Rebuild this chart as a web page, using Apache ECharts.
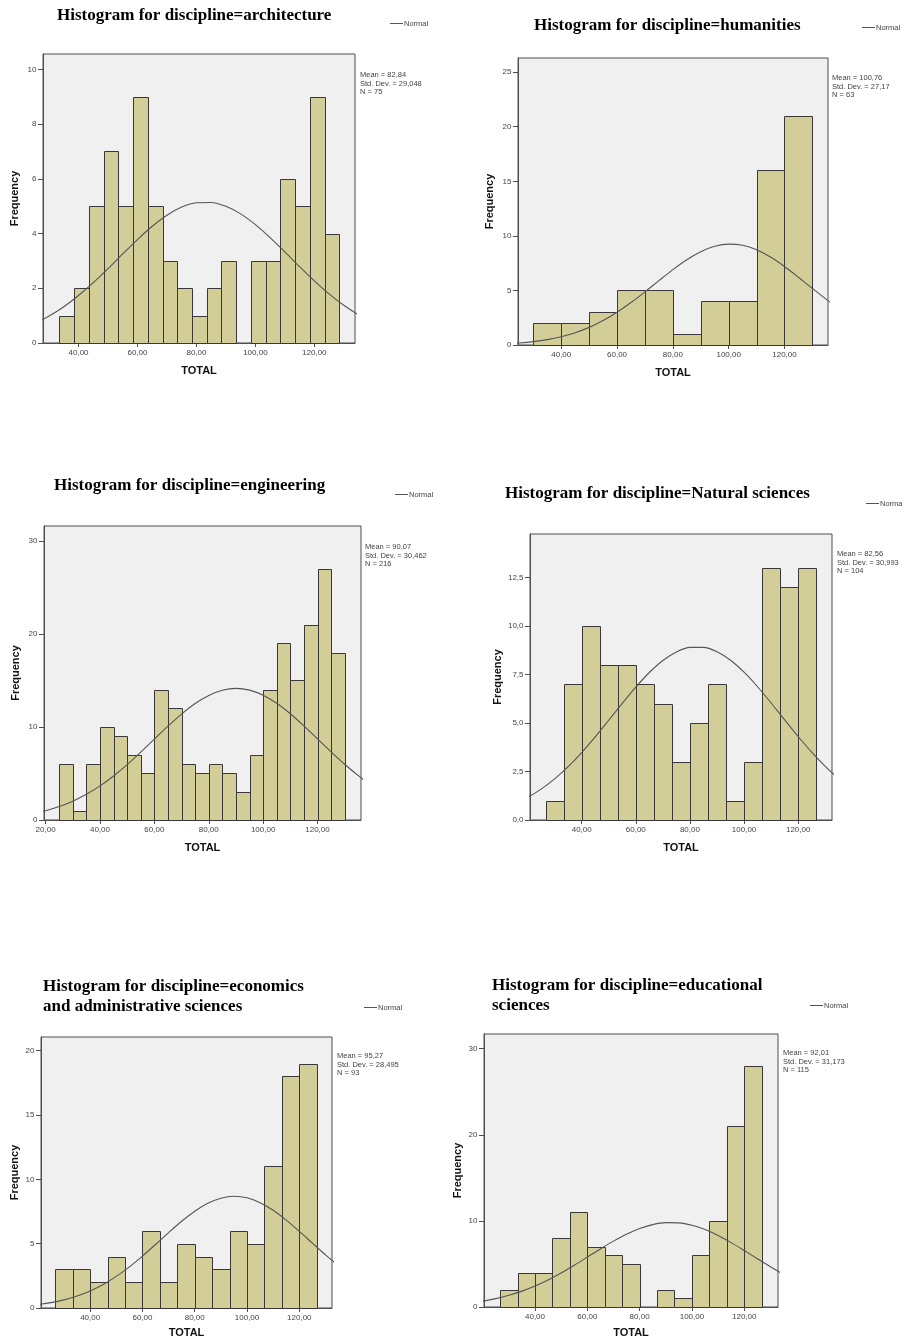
<!DOCTYPE html>
<html>
<head>
<meta charset="utf-8">
<script src="https://cdn.jsdelivr.net/npm/echarts@6/dist/echarts.min.js"></script>
<style>
html,body{margin:0;padding:0;background:#fff;}
#chart{width:903px;height:1342px;}
</style>
</head>
<body>
<div id="chart"></div>
<script>
// ---------- DATA ----------
const titles = [
  ['Histogram for discipline=architecture'],
  ['Histogram for discipline=humanities'],
  ['Histogram for discipline=engineering'],
  ['Histogram for discipline=Natural sciences'],
  ['Histogram for discipline=economics', 'and administrative sciences'],
  ['Histogram for discipline=educational', 'sciences']
];
const statsText = [
  ['Mean = 82,84', 'Std. Dev. = 29,048', 'N = 75'],
  ['Mean = 100,76', 'Std. Dev. = 27,17', 'N = 63'],
  ['Mean = 90,07', 'Std. Dev. = 30,462', 'N = 216'],
  ['Mean = 82,56', 'Std. Dev. = 30,993', 'N = 104'],
  ['Mean = 95,27', 'Std. Dev. = 28,495', 'N = 93'],
  ['Mean = 92,01', 'Std. Dev. = 31,173', 'N = 115']
];

const archEdges = [33.5, 38.5, 43.5, 48.5, 53.5, 58.5, 63.5, 68.5, 73.5, 78.5, 83.5, 88.5, 93.5, 98.5, 103.5, 108.5, 113.5, 118.5, 123.5, 128.5];
const archCounts = [1, 2, 5, 7, 5, 9, 5, 3, 2, 1, 2, 3, 0, 3, 3, 6, 5, 9, 4];

const humEdges = [30, 40, 50, 60, 70, 80, 90, 100, 110, 120, 130];
const humCounts = [2, 2, 3, 5, 5, 1, 4, 4, 16, 21];

const engEdges = [25, 30, 35, 40, 45, 50, 55, 60, 65, 70, 75, 80, 85, 90, 95, 100, 105, 110, 115, 120, 125, 130];
const engCounts = [6, 1, 6, 10, 9, 7, 5, 14, 12, 6, 5, 6, 5, 3, 7, 14, 19, 15, 21, 27, 18];

const natEdges = [26.67, 33.33, 40, 46.67, 53.33, 60, 66.67, 73.33, 80, 86.67, 93.33, 100, 106.67, 113.33, 120, 126.67];
const natCounts = [1, 7, 10, 8, 8, 7, 6, 3, 5, 7, 1, 3, 13, 12, 13];

const ecoEdges = [26.67, 33.33, 40, 46.67, 53.33, 60, 66.67, 73.33, 80, 86.67, 93.33, 100, 106.67, 113.33, 120, 126.67];
const ecoCounts = [3, 3, 2, 4, 2, 6, 2, 5, 4, 3, 6, 5, 11, 18, 19];

const eduEdges = [26.67, 33.33, 40, 46.67, 53.33, 60, 66.67, 73.33, 80, 86.67, 93.33, 100, 106.67, 113.33, 120, 126.67];
const eduCounts = [2, 4, 4, 8, 11, 7, 6, 5, 0, 2, 1, 6, 10, 21, 28];

// Normal curves (at these TOTAL values)
const curveX = [15, 20, 25, 30, 35, 40, 45, 50, 55, 60, 65, 70, 75, 80, 85, 90, 95, 100, 105, 110, 115, 120, 125, 130, 135, 140];
const archCurve = [0.337, 0.496, 0.709, 0.985, 1.327, 1.736, 2.204, 2.718, 3.254, 3.780, 4.265, 4.671, 4.966, 5.125, 5.136, 4.996, 4.718, 4.325, 3.850, 3.326, 2.790, 2.272, 1.796, 1.379, 1.027, 0.743];
const humCurve = [0.064, 0.112, 0.190, 0.311, 0.494, 0.759, 1.126, 1.615, 2.240, 3.002, 3.890, 4.874, 5.901, 6.908, 7.818, 8.552, 9.044, 9.246, 9.138, 8.730, 8.063, 7.199, 6.213, 5.184, 4.181, 3.260];
const engCurve = [0.679, 1.004, 1.445, 2.024, 2.760, 3.664, 4.734, 5.955, 7.291, 8.689, 10.081, 11.384, 12.515, 13.392, 13.950, 14.144, 13.960, 13.412, 12.543, 11.419, 10.119, 8.729, 7.329, 5.990, 4.766, 3.691];
const natCurve = [0.830, 1.164, 1.591, 2.119, 2.750, 3.477, 4.282, 5.140, 6.011, 6.848, 7.602, 8.221, 8.663, 8.895, 8.897, 8.672, 8.234, 7.618, 6.867, 6.031, 5.161, 4.303, 3.495, 2.766, 2.133, 1.602];
const ecoCurve = [0.164, 0.265, 0.415, 0.630, 0.927, 1.323, 1.831, 2.457, 3.198, 4.035, 4.937, 5.858, 6.740, 7.519, 8.134, 8.533, 8.680, 8.561, 8.188, 7.594, 6.830, 5.956, 5.037, 4.130, 3.284, 2.532];
const eduCurve = [0.464, 0.681, 0.974, 1.357, 1.843, 2.440, 3.147, 3.957, 4.849, 5.791, 6.741, 7.647, 8.455, 9.110, 9.567, 9.792, 9.767, 9.495, 8.996, 8.307, 7.476, 6.557, 5.605, 4.669, 3.791, 3.000];

// Tick labels
const xTicksStd = [40, 60, 80, 100, 120];
const xTicksEng = [20, 40, 60, 80, 100, 120];
const archYTicks = [0, 2, 4, 6, 8, 10];
const humYTicks = [0, 5, 10, 15, 20, 25];
const engYTicks = [0, 10, 20, 30];
const natYTicks = [0, 2.5, 5, 7.5, 10, 12.5];
const ecoYTicks = [0, 5, 10, 15, 20];
const eduYTicks = [0, 10, 20, 30];

const seriesSets = [
  {edges: archEdges, counts: archCounts, curve: archCurve, xt: xTicksStd, yt: archYTicks, yDec: 0},
  {edges: humEdges, counts: humCounts, curve: humCurve, xt: xTicksStd, yt: humYTicks, yDec: 0},
  {edges: engEdges, counts: engCounts, curve: engCurve, xt: xTicksEng, yt: engYTicks, yDec: 0},
  {edges: natEdges, counts: natCounts, curve: natCurve, xt: xTicksStd, yt: natYTicks, yDec: 1},
  {edges: ecoEdges, counts: ecoCounts, curve: ecoCurve, xt: xTicksStd, yt: ecoYTicks, yDec: 0},
  {edges: eduEdges, counts: eduCounts, curve: eduCurve, xt: xTicksStd, yt: eduYTicks, yDec: 0}
];

// ---------- LAYOUT (positions / sizes) ----------
const layout = [
  {g: [43, 54, 312, 289], xr: [27.94, 133.8], yMax: 10.56, title: [57, 16], tl: 20, leg: [390, 23], stats: [360, 75], fGap: 22.5, tGap: 22.5},
  {g: [518, 58, 310, 287], xr: [24.5, 135.6], yMax: 26.3, title: [534, 26], tl: 20, leg: [862, 27], stats: [832, 78], fGap: 22.5, tGap: 22},
  {g: [44, 526, 317, 294], xr: [19.4, 136.0], yMax: 31.6, title: [54, 486], tl: 20, leg: [395, 494], stats: [365, 547], fGap: 22.5, tGap: 22},
  {g: [530, 534, 302, 286], xr: [20.9, 132.5], yMax: 14.74, title: [505, 494], tl: 20, leg: [866, 503], stats: [837, 554], fGap: 27, tGap: 22},
  {g: [41, 1037, 291, 271], xr: [21.2, 132.5], yMax: 21.06, title: [43, 987], tl: 20, leg: [364, 1007], stats: [337, 1056], fGap: 20.5, tGap: 19.5},
  {g: [484, 1034, 294, 273], xr: [20.5, 132.9], yMax: 31.7, title: [492, 986], tl: 19.5, leg: [810, 1005], stats: [783, 1053], fGap: 20.5, tGap: 20.5}
];

const BAR_FILL = '#d3ce98';
const BAR_STROKE = '#383838';
const FRAME = '#4f4f4f';
const SANS = 'Liberation Sans';

const grids = [], xAxes = [], yAxes = [], series = [], graphics = [];

layout.forEach((L, i) => {
  const S = seriesSets[i];
  grids.push({
    left: L.g[0], top: L.g[1], width: L.g[2], height: L.g[3],
    show: true, backgroundColor: '#f0f0f0', borderColor: FRAME, borderWidth: 1,
    containLabel: false, outerBoundsMode: 'none'
  });
  xAxes.push({
    type: 'value', gridIndex: i, min: L.xr[0], max: L.xr[1],
    name: 'TOTAL', nameLocation: 'middle', nameGap: L.tGap, nameMoveOverlap: false,
    nameTextStyle: {fontFamily: SANS, fontWeight: 'bold', fontSize: 11, color: '#111'},
    axisLine: {show: true, lineStyle: {color: FRAME, width: 1}},
    splitLine: {show: false},
    axisTick: {show: true, customValues: S.xt, length: 4, inside: false, lineStyle: {color: FRAME}},
    axisLabel: {show: true, customValues: S.xt, margin: 6, fontSize: 8, color: '#444', fontFamily: SANS,
      formatter: v => v.toFixed(2).replace('.', ',')}
  });
  yAxes.push({
    type: 'value', gridIndex: i, min: 0, max: L.yMax,
    name: 'Frequency', nameLocation: 'middle', nameGap: L.fGap, nameMoveOverlap: false,
    nameTextStyle: {fontFamily: SANS, fontWeight: 'bold', fontSize: 11, color: '#111'},
    axisLine: {show: true, lineStyle: {color: FRAME, width: 1}},
    splitLine: {show: false},
    axisTick: {show: true, customValues: S.yt, length: 5, inside: false, lineStyle: {color: FRAME}},
    axisLabel: {show: true, customValues: S.yt, margin: 6.5, fontSize: 8, color: '#444', fontFamily: SANS,
      formatter: v => S.yDec ? v.toFixed(1).replace('.', ',') : String(v)}
  });
  const barData = S.counts.map((c, k) => [S.edges[k], S.edges[k + 1], c]);
  series.push({
    type: 'custom', xAxisIndex: i, yAxisIndex: i, z: 2,
    encode: {x: [0, 1], y: 2},
    data: barData,
    renderItem: function (params, api) {
      const x0 = api.value(0), x1 = api.value(1), c = api.value(2);
      if (!c) return null;
      const p0 = api.coord([x0, c]);
      const p1 = api.coord([x1, 0]);
      return {
        type: 'rect',
        shape: {x: Math.round(p0[0]) + 0.5, y: Math.round(p0[1]) + 0.5,
                width: Math.round(p1[0]) - Math.round(p0[0]), height: Math.round(p1[1]) - Math.round(p0[1])},
        style: {fill: BAR_FILL, stroke: BAR_STROKE, lineWidth: 1}
      };
    }
  });
  series.push({
    type: 'line', name: 'Normal', xAxisIndex: i, yAxisIndex: i, z: 3,
    data: curveX.map((x, k) => [x, S.curve[k]]),
    showSymbol: false, symbol: 'none', smooth: 0.3, clip: true,
    lineStyle: {color: '#555', width: 1.1},
    silent: true
  });

  // title
  titles[i].forEach((t, k) => {
    graphics.push({type: 'text', silent: true, style: {
      text: t, x: L.title[0], y: L.title[1] + k * L.tl,
      font: 'bold 17px "Liberation Serif"', fill: '#000', verticalAlign: 'middle', align: 'left'}});
  });
  // legend
  graphics.push({type: 'line', silent: true, shape: {x1: L.leg[0], y1: L.leg[1] + 0.5, x2: L.leg[0] + 13, y2: L.leg[1] + 0.5},
    style: {stroke: '#555', lineWidth: 1}});
  graphics.push({type: 'text', silent: true, style: {text: 'Normal', x: L.leg[0] + 14, y: L.leg[1] + 0.5,
    font: '7.5px "Liberation Sans"', fill: '#444', verticalAlign: 'middle', align: 'left'}});
  // stats
  statsText[i].forEach((t, k) => {
    graphics.push({type: 'text', silent: true, style: {text: t, x: L.stats[0], y: L.stats[1] + k * 8.5,
      font: '7.5px "Liberation Sans"', fill: '#444', verticalAlign: 'middle', align: 'left'}});
  });
});

const chart = echarts.init(document.getElementById('chart'), null, {renderer: 'canvas'});
chart.setOption({
  animation: false,
  backgroundColor: '#ffffff',
  textStyle: {fontFamily: SANS},
  grid: grids,
  xAxis: xAxes,
  yAxis: yAxes,
  series: series,
  graphic: graphics
});
</script>
</body>
</html>
